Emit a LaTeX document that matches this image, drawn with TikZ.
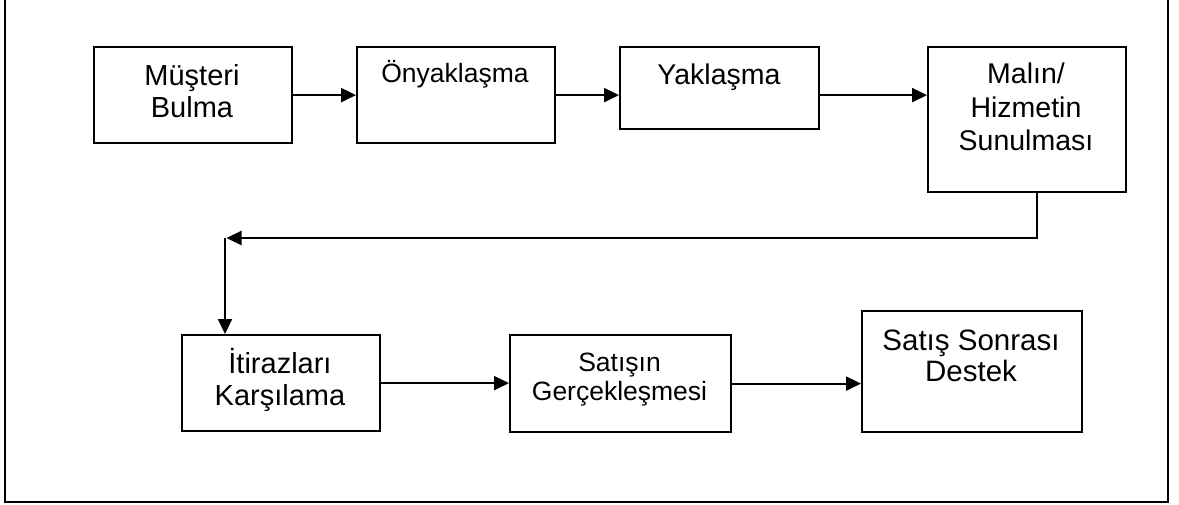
\documentclass[tikz,border=0pt]{standalone}
\usepackage{fontspec}
\setmainfont{Liberation Sans}
\usetikzlibrary{arrows.meta}

\tikzset{
  stage/.style={draw=black, line width=2.2pt, anchor=north west, inner sep=0pt, fill=white},
  boxsize/.style 2 args={minimum width=#1pt, minimum height=#2pt},
  % captions are placed by the baseline of their last line
  caption/.style={anchor=base, align=center, inner sep=0pt, text=black},
  flow/.style={draw=black, line width=2.2pt, -{Triangle[length=15pt,width=14pt]}},
  frame/.style={draw=black, line width=2.6pt}
}

\begin{document}
\begin{tikzpicture}[x=1pt, y=-1pt]
  \path[use as bounding box, clip] (0,0) rectangle (1179,504);
  \fill[white] (0,0) rectangle (1179,504);

  % outer frame, open at the top edge of the page
  \draw[frame] (5,-10) -- (5,502) -- (1168,502) -- (1168,-10);

  % upper row of stages
  \node[stage, boxsize={198}{96}]  (b1) at (93,46)  {};
  \node[stage, boxsize={198}{96}]  (b2) at (356,46) {};
  \node[stage, boxsize={199}{82}]  (b3) at (619,46) {};
  \node[stage, boxsize={198}{145}] (b4) at (927,46) {};

  % lower row of stages
  \node[stage, boxsize={198}{96}]  (b5) at (181,334) {};
  \node[stage, boxsize={221}{97}]  (b6) at (509,334) {};
  \node[stage, boxsize={220}{121}] (b7) at (861,310) {};

  % stage captions
  \node[caption, font=\fontsize{29}{32.3}\selectfont] (t1) at (192,117.3) {Müşteri\\Bulma};
  \node[caption, font=\fontsize{26.5}{30}\selectfont] (t2) at (455,82.3) {Önyaklaşma};
  \node[caption, font=\fontsize{28.5}{32}\selectfont] (t3) at (719,84) {Yaklaşma};
  \node[caption, font=\fontsize{28.5}{33.7}\selectfont] (t4) at (1026,150.7) {Malın/\\Hizmetin\\Sunulması};
  \node[caption, font=\fontsize{29}{31.7}\selectfont] (t5) at (280,405) {İtirazları\\Karşılama};
  \node[caption, font=\fontsize{26.5}{29}\selectfont] (t6) at (619.5,400) {Satışın\\Gerçekleşmesi};
  \node[caption, font=\fontsize{29.5}{31.7}\selectfont] (t7) at (971,381.7) {Satış Sonrası\\Destek};

  % bends of the return connector
  \coordinate (drop) at (1037,238);
  \coordinate (turn) at (225,238);

  % connectors
  \draw[flow] (b1.east) -- (b2.west);
  \draw[flow] (b2.east) -- (b3.west |- b2.east);
  \draw[flow] (b3.east |- b2.east) -- (b4.west |- b2.east);
  \draw[flow] (b4.south -| drop) -- (drop) -- ([xshift=1.5pt]turn);
  \draw[flow] (turn) -- (turn |- b5.north);
  \draw[flow] (b5.east) -- (b6.west |- b5.east);
  \draw[flow] (b6.east) -- (b7.west |- b6.east);
\end{tikzpicture}
\end{document}
